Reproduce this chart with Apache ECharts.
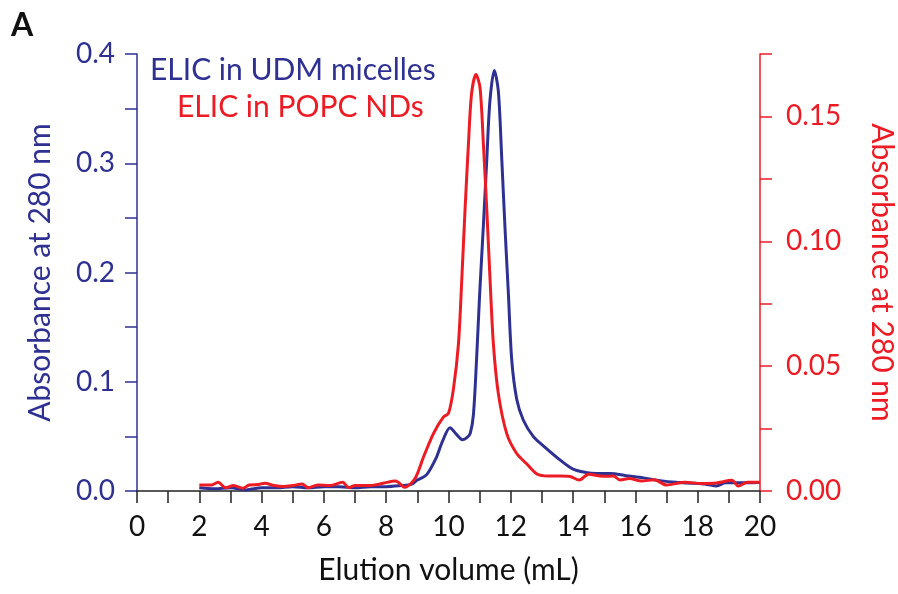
<!DOCTYPE html>
<html>
<head>
<meta charset="utf-8">
<title>ELIC SEC</title>
<script src="https://cdn.jsdelivr.net/npm/echarts@6/dist/echarts.min.js"></script>
<style>
  html, body { margin: 0; padding: 0; background: #fff; }
  #main { width: 898px; height: 594px; }
</style>
</head>
<body>
<div id="main"></div>
<script>
// elution volume (mL) / absorbance
var udmX = [2.0, 2.5, 3.0, 3.5, 4.0, 4.5, 5.0, 5.5, 6.0, 6.5, 7.0, 7.5, 8.0, 8.5, 8.8,
  9.0, 9.3, 9.6, 9.8, 10.05, 10.25, 10.45, 10.6, 10.7, 10.8, 10.9, 11.0, 11.12, 11.23,
  11.33, 11.47, 11.6, 11.71, 11.81, 11.92, 12.03, 12.19, 12.4, 12.72, 13.1, 13.6, 14.0,
  14.4, 14.75, 15.2, 15.7, 16.25, 16.8, 17.3, 17.9, 18.3, 18.6, 18.9, 19.5, 20.0];
var udmY = [0.003, 0.002, 0.003, 0.001, 0.003, 0.003, 0.004, 0.003, 0.004, 0.004, 0.003, 0.004, 0.004, 0.005, 0.006,
  0.010, 0.015, 0.030, 0.045, 0.058, 0.052, 0.047, 0.049, 0.053, 0.070, 0.120, 0.180, 0.243, 0.304,
  0.357, 0.385, 0.366, 0.304, 0.243, 0.182, 0.120, 0.084, 0.065, 0.050, 0.040, 0.028, 0.020,
  0.017, 0.016, 0.016, 0.014, 0.012, 0.0095, 0.008, 0.007, 0.006, 0.0046, 0.0075, 0.0075, 0.0077];

var ndX = [2.0, 2.4, 2.6, 2.85, 3.1, 3.4, 3.6, 3.9, 4.1, 4.4, 4.7, 5.0, 5.3, 5.5, 5.8, 6.2,
  6.6, 6.8, 7.0, 7.5, 7.9, 8.3, 8.6, 8.93, 9.2, 9.52, 9.84, 10.0, 10.16, 10.32, 10.43, 10.53,
  10.64, 10.74, 10.88, 11.01, 11.12, 11.23, 11.33, 11.44, 11.6, 11.87, 12.19, 12.5, 12.84,
  13.2, 13.6, 13.9, 14.2, 14.5, 14.95, 15.3, 15.5, 15.8, 16.2, 16.6, 17.0, 17.6, 18.1, 18.6,
  19.1, 19.3, 19.6, 20.0];
var ndY = [0.0024, 0.0024, 0.0035, 0.0013, 0.0022, 0.0011, 0.0024, 0.0026, 0.0031, 0.0022, 0.0018, 0.0022, 0.0028, 0.0013, 0.0024, 0.0022,
  0.0035, 0.0013, 0.0022, 0.0022, 0.0031, 0.0040, 0.0015, 0.0051, 0.0137, 0.0231, 0.0297, 0.0311, 0.041, 0.059, 0.0857, 0.1124,
  0.139, 0.159, 0.1668, 0.1617, 0.139, 0.1124, 0.0857, 0.059, 0.039, 0.023, 0.015, 0.011, 0.0068,
  0.006, 0.006, 0.0058, 0.0044, 0.0067, 0.0059, 0.006, 0.0044, 0.005, 0.004, 0.0045, 0.0024, 0.0035, 0.003, 0.0032,
  0.0043, 0.002, 0.0035, 0.0035];

var blue = '#2e3192';
var red = '#ed1c24';
var font = 'Lato';

function pairs(xs, ys) {
  var out = [];
  for (var i = 0; i < xs.length; i++) out.push([xs[i], ys[i]]);
  return out;
}

var chart = echarts.init(document.getElementById('main'));
chart.setOption({
  animation: false,
  textStyle: { fontFamily: font },
  title: [
    { text: 'A', left: 6, top: 5, textStyle: { fontFamily: font, fontSize: 32, fontWeight: 'bold', color: '#111' } },
    { text: 'ELIC in UDM micelles', left: 145, top: 50, textStyle: { fontFamily: font, fontSize: 30, fontWeight: 'normal', color: blue } },
    { text: 'ELIC in POPC NDs', left: 172, top: 87, textStyle: { fontFamily: font, fontSize: 30, fontWeight: 'normal', color: red } }
  ],
  grid: { left: 137, right: 138, top: 54, bottom: 103, containLabel: false, outerBoundsMode: 'none' },
  xAxis: {
    type: 'value', min: 0, max: 20, interval: 1,
    name: 'Elution volume (mL)', nameLocation: 'middle', nameGap: 64,
    nameTextStyle: { fontFamily: font, fontSize: 30, color: '#111' },
    axisLine: { show: true, lineStyle: { color: '#222', width: 1.5 } },
    axisTick: { show: true, length: 12, lineStyle: { color: '#222', width: 1.5 } },
    axisLabel: {
      margin: 22, fontSize: 28, color: '#111', fontFamily: font,
      formatter: function (v) { return v % 2 === 0 ? String(v) : ''; }
    },
    splitLine: { show: false }
  },
  yAxis: [
    {
      type: 'value', position: 'left', min: 0, max: 0.4, interval: 0.05,
      name: 'Absorbance at 280 nm', nameLocation: 'middle', nameRotate: 90, nameGap: 82,
      nameTextStyle: { fontFamily: font, fontSize: 30, color: blue },
      axisLine: { show: true, lineStyle: { color: blue, width: 1.5 } },
      axisTick: { show: true, length: 12, lineStyle: { color: blue, width: 1.5 } },
      axisLabel: {
        margin: 22, fontSize: 28, color: blue, fontFamily: font,
        formatter: function (v) { return Math.round(v * 100) % 10 === 0 ? v.toFixed(1) : ''; }
      },
      splitLine: { show: false }
    },
    {
      type: 'value', position: 'right', min: 0, max: 0.175, interval: 0.025,
      name: 'Absorbance at 280 nm', nameLocation: 'middle', nameRotate: -90, nameGap: 107,
      nameTextStyle: { fontFamily: font, fontSize: 30, color: red },
      axisLine: { show: true, lineStyle: { color: red, width: 1.5 } },
      axisTick: { show: true, length: 12, lineStyle: { color: red, width: 1.5 } },
      axisLabel: {
        margin: 26, fontSize: 28, color: red, fontFamily: font,
        formatter: function (v) { return Math.round(v * 1000) % 50 === 0 ? v.toFixed(2) : ''; }
      },
      splitLine: { show: false }
    }
  ],
  series: [
    {
      name: 'ELIC in UDM micelles', type: 'line', yAxisIndex: 0,
      data: pairs(udmX, udmY), showSymbol: false, smooth: 0.3, z: 2,
      lineStyle: { color: blue, width: 3 }
    },
    {
      name: 'ELIC in POPC NDs', type: 'line', yAxisIndex: 1,
      data: pairs(ndX, ndY), showSymbol: false, smooth: 0.3, z: 3,
      lineStyle: { color: red, width: 3 }
    }
  ]
});
</script>
</body>
</html>
